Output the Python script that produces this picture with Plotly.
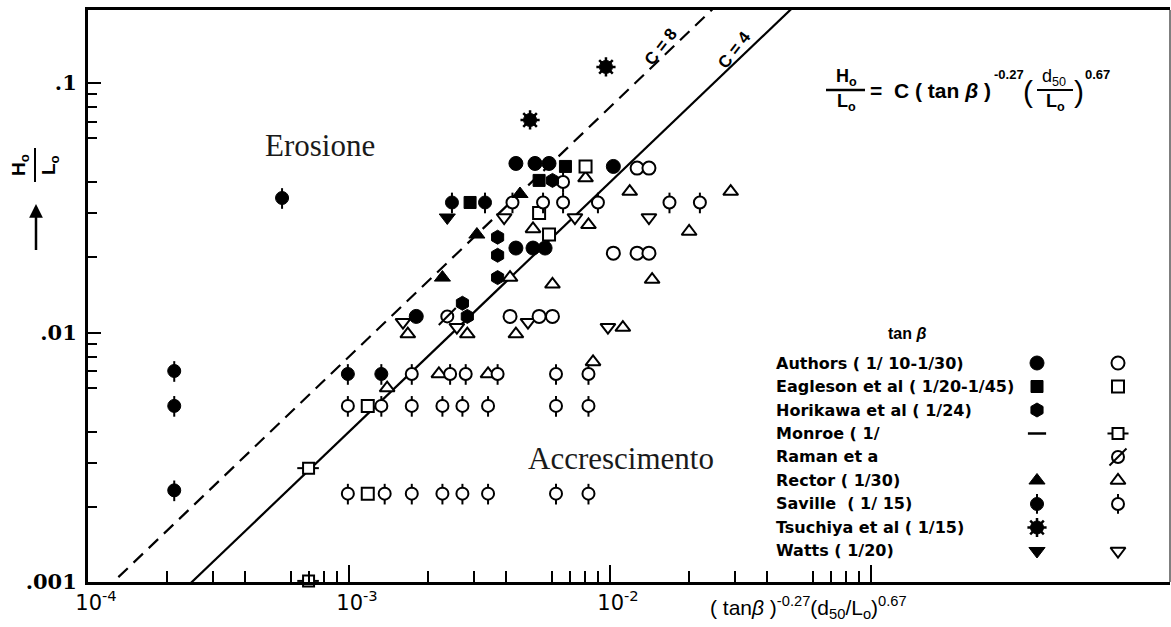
import plotly.graph_objects as go

# ---------------- data (x = (tanB)^-0.27 (d50/Lo)^0.67 , y = Ho/Lo) ----------------
# Authors (1/10-1/30)
authors_fill_x = [4.36e-3, 5.16e-3, 5.84e-3, 1.03e-2, 4.36e-3, 5.07e-3, 5.64e-3, 1.81e-3]
authors_fill_y = [0.0476, 0.0476, 0.0476, 0.0463, 0.0218, 0.0218, 0.0218, 0.0116]
authors_open_x = [1.27e-2, 1.41e-2, 1.03e-2, 1.27e-2, 1.41e-2, 4.14e-3, 5.35e-3, 6.02e-3]
authors_open_y = [0.0456, 0.0456, 0.0208, 0.0208, 0.0208, 0.0116, 0.0116, 0.0116]

# Eagleson et al (1/20-1/45)
eagleson_fill_x = [6.75e-3, 2.91e-3, 5.35e-3]
eagleson_fill_y = [0.0463, 0.0332, 0.0407]
eagleson_open_x = [8.06e-3, 5.35e-3, 5.84e-3, 1.18e-3, 1.18e-3]
eagleson_open_y = [0.0463, 0.0301, 0.0247, 0.00508, 0.00226]

# Horikawa et al (1/24)
horikawa_fill_x = [6.02e-3, 3.71e-3, 3.71e-3, 3.71e-3, 2.72e-3, 2.84e-3]
horikawa_fill_y = [0.0407, 0.0241, 0.0204, 0.0166, 0.0131, 0.0116]

# Monroe
monroe_open_x = [7.0e-4, 7.0e-4]
monroe_open_y = [0.00286, 0.00101]

# Raman et al
raman_open_x = [2.38e-3]
raman_open_y = [0.0116]

# Rector (1/30)
rector_fill_x = [4.52e-3, 3.09e-3, 2.28e-3]
rector_fill_y = [0.0359, 0.0247, 0.0166]
rector_open_x = [8.06e-3, 1.19e-2, 2.90e-2, 8.27e-3, 5.07e-3, 2.01e-2, 4.14e-3, 6.02e-3,
                 1.45e-2, 1.68e-3, 2.84e-3, 4.36e-3, 1.12e-2, 1.40e-3, 2.21e-3, 3.41e-3, 8.61e-3]
rector_open_y = [0.0416, 0.0367, 0.0367, 0.0270, 0.0260, 0.0254, 0.0166, 0.0156,
                 0.0163, 0.00986, 0.00986, 0.00986, 0.01047, 0.00599, 0.00682, 0.00682, 0.00762]

# Saville (1/15)
saville_fill_x = [5.54e-4, 2.14e-4, 2.14e-4, 2.14e-4, 9.9e-4, 1.33e-3, 2.48e-3, 3.32e-3]
saville_fill_y = [0.0346, 0.00701, 0.00508, 0.00233, 0.00682, 0.00682, 0.0332, 0.0332]
saville_open_x = [6.61e-3, 4.23e-3, 5.54e-3, 6.61e-3, 8.99e-3, 1.69e-2, 2.21e-2,
                  1.74e-3, 2.44e-3, 2.80e-3, 3.71e-3, 6.21e-3, 8.27e-3,
                  9.9e-4, 1.33e-3, 1.74e-3, 2.28e-3, 2.72e-3, 3.41e-3, 6.21e-3, 8.27e-3,
                  9.9e-4, 1.37e-3, 1.74e-3, 2.28e-3, 2.72e-3, 3.41e-3, 6.21e-3, 8.27e-3]
saville_open_y = [0.0401, 0.0332, 0.0332, 0.0332, 0.0332, 0.0332, 0.0332,
                  0.00682, 0.00682, 0.00682, 0.00682, 0.00682, 0.00682,
                  0.00508, 0.00508, 0.00508, 0.00508, 0.00508, 0.00508, 0.00508, 0.00508,
                  0.00226, 0.00226, 0.00226, 0.00226, 0.00226, 0.00226, 0.00226, 0.00226]

# Tsuchiya et al (1/15)
tsuchiya_fill_x = [9.65e-3, 4.94e-3]
tsuchiya_fill_y = [0.116, 0.0711]

# Watts (1/20)
watts_fill_x = [2.38e-3]
watts_fill_y = [0.0289]
watts_open_x = [3.93e-3, 7.34e-3, 1.41e-2, 1.61e-3, 2.59e-3, 4.85e-3, 9.82e-3]
watts_open_y = [0.0289, 0.0289, 0.0289, 0.0110, 0.0105, 0.0110, 0.0105]

# Boundary lines Ho/Lo = C * x
line_x = [1e-4, 1e-1]
c_levels = [8, 4]
c_dash = ["13px,8px", "solid"]

# Legend rows
legend_labels = ["Authors ( 1/ 10-1/30)", "Eagleson et al ( 1/20-1/45)", "Horikawa et al ( 1/24)",
                 "Monroe ( 1/", "Raman et a", "Rector ( 1/30)", "Saville  ( 1/ 15)",
                 "Tsuchiya et al ( 1/15)", "Watts ( 1/20)"]
legend_fill = ["authors_fill", "eagleson_fill", "horikawa_fill", "monroe_fill", None,
               "rector_fill", "saville_fill", "tsuchiya_fill", "watts_fill"]
legend_open = ["authors_open", "eagleson_open", None, "monroe_open", "raman_open",
               "rector_open", "saville_open", None, "watts_open"]

# Axis ticks
x_decades = [1e-4, 1e-3, 1e-2, 1e-1]
x_decade_text = ["10<sup>-4</sup>", "10<sup>-3</sup>", "10<sup>-2</sup>", " "]
y_decades = [1e-3, 1e-2, 1e-1]
y_decade_text = [".001", ".01", ".1"]
x_fives = [5e-4, 5e-3, 5e-2]
y_fives = [5e-3, 5e-2]
minor_digits = [2, 3, 4, 6, 7, 8, 9]
x_minor = [d * 10.0 ** e for e in (-4, -3, -2) for d in minor_digits]
y_minor = [d * 10.0 ** e for e in (-3, -2) for d in minor_digits]

# ---------------- marker styles ----------------
STYLES = {
    "authors_fill": [dict(symbol="circle", size=14, kind="fill")],
    "authors_open": [dict(symbol="circle", size=13, kind="open")],
    "eagleson_fill": [dict(symbol="square", size=12, kind="fill")],
    "eagleson_open": [dict(symbol="square", size=12, kind="open")],
    "horikawa_fill": [dict(symbol="hexagon", size=14, kind="fill")],
    "monroe_fill": [dict(symbol="line-ew-open", size=13, kind="stroke", lw=2.5)],
    "monroe_open": [dict(symbol="square", size=11, kind="open", err="x")],
    "raman_open": [dict(symbol="circle", size=12, kind="open"),
                   dict(symbol="line-ne-open", size=17, kind="stroke", lw=2)],
    "rector_fill": [dict(symbol="triangle-up", size=14, kind="fill")],
    "rector_open": [dict(symbol="triangle-up", size=13, kind="open")],
    "saville_fill": [dict(symbol="circle", size=13, kind="fill", err="y")],
    "saville_open": [dict(symbol="circle", size=12, kind="open", err="y")],
    "tsuchiya_fill": [dict(symbol="asterisk-open", size=16, kind="stroke", lw=2.5),
                      dict(symbol="circle", size=13, kind="fill")],
    "watts_fill": [dict(symbol="triangle-down", size=14, kind="fill")],
    "watts_open": [dict(symbol="triangle-down", size=13, kind="open")],
}


def add_marks(fig, x, y, key, xa="x", ya="y", legend=False):
    for layer in STYLES[key]:
        kind = layer["kind"]
        if kind == "fill":
            marker = dict(symbol=layer["symbol"], size=layer["size"], color="black",
                          line=dict(color="black", width=1))
        elif kind == "open":
            marker = dict(symbol=layer["symbol"], size=layer["size"], color="white",
                          line=dict(color="black", width=2))
        else:
            marker = dict(symbol=layer["symbol"], size=layer["size"], color="black",
                          line=dict(color="black", width=layer["lw"]))
        tr = dict(x=x, y=y, mode="markers", marker=marker, xaxis=xa, yaxis=ya,
                  showlegend=False, hoverinfo="skip", cliponaxis=False)
        err = layer.get("err")
        if err:
            if legend:
                eb = dict(type="constant", value=0.42 if err == "y" else 0.13,
                          width=0, thickness=2, color="black")
            else:
                eb = dict(type="percent", value=9.5, width=0, thickness=2, color="black")
            tr["error_y" if err == "y" else "error_x"] = eb
        fig.add_trace(go.Scatter(**tr))


# ---------------- figure geometry helpers (pixel -> paper) ----------------
W, H = 1171, 627
ML, MR, MT, MB = 88, 1, 10, 45
PW, PH = W - ML - MR, H - MT - MB
X_RANGE = [-4, -4 + PW / 261.0]
Y_RANGE = [-3, -3 + PH / 249.5]


def PX(px):
    return (px - ML) / PW


def PY(py):
    return (H - MB - py) / PH


fig = go.Figure()

# boundary lines
for c, dash in zip(c_levels, c_dash):
    fig.add_trace(go.Scatter(x=line_x, y=[c * v for v in line_x], mode="lines",
                             line=dict(color="black", width=2.2, dash=dash),
                             showlegend=False, hoverinfo="skip"))

# data series
add_marks(fig, rector_open_x, rector_open_y, "rector_open")
add_marks(fig, watts_open_x, watts_open_y, "watts_open")
add_marks(fig, authors_open_x, authors_open_y, "authors_open")
add_marks(fig, eagleson_open_x, eagleson_open_y, "eagleson_open")
add_marks(fig, monroe_open_x, monroe_open_y, "monroe_open")
add_marks(fig, raman_open_x, raman_open_y, "raman_open")
add_marks(fig, saville_open_x, saville_open_y, "saville_open")
add_marks(fig, authors_fill_x, authors_fill_y, "authors_fill")
add_marks(fig, eagleson_fill_x, eagleson_fill_y, "eagleson_fill")
add_marks(fig, horikawa_fill_x, horikawa_fill_y, "horikawa_fill")
add_marks(fig, rector_fill_x, rector_fill_y, "rector_fill")
add_marks(fig, saville_fill_x, saville_fill_y, "saville_fill")
add_marks(fig, tsuchiya_fill_x, tsuchiya_fill_y, "tsuchiya_fill")
add_marks(fig, watts_fill_x, watts_fill_y, "watts_fill")

# legend keys: column 0 = filled, column 1 = open, one row per source
for i, (kf, ko) in enumerate(zip(legend_fill, legend_open)):
    if kf:
        add_marks(fig, [0], [i], kf, xa="x2", ya="y2", legend=True)
    if ko:
        add_marks(fig, [1], [i], ko, xa="x2", ya="y2", legend=True)

SANS = "Liberation Sans"
SERIF = "Liberation Serif"
annotations = []


def text(px, py, s, size, family=SANS, weight="bold", angle=0, xanchor="center", color="black"):
    annotations.append(dict(x=PX(px), y=PY(py), xref="paper", yref="paper", text=s,
                            showarrow=False, textangle=angle, xanchor=xanchor, yanchor="middle",
                            font=dict(family=family, size=size, color=color, weight=weight)))


# region labels
text(320, 145, "Erosione", 31, family=SERIF, weight="normal", color="#1a1a1a")
text(621, 458, "Accrescimento", 31, family=SERIF, weight="normal", color="#1a1a1a")

# line labels
text(660, 47, "C = 8", 17, angle=-52)
text(735, 50, "C = 4", 17, angle=-52)

# formula
text(846, 78, "H<sub>o</sub>", 18)
text(846, 102, "L<sub>o</sub>", 18)
text(876, 90, "=", 21)
text(942, 91, "C ( tan <i>β</i> )", 21)
text(1009, 74, "-0.27", 13)
text(1028, 92, "(", 30, weight="normal")
text(1054, 78, "d<sub>50</sub>", 18, weight="normal")
text(1055, 102, "L<sub>o</sub>", 18)
text(1079, 92, ")", 30, weight="normal")
text(1097, 74, "0.67", 13)

# axis titles
text(20, 165, "H<sub>o</sub>", 19, angle=-90)
text(50, 165, "L<sub>o</sub>", 19, angle=-90)
text(808, 607, "( tan<i>β</i> )<sup>-0.27</sup>(d<sub>50</sub>/L<sub>o</sub>)<sup>0.67</sup>", 21,
     weight="normal")

# arrow next to the y title
annotations.append(dict(x=PX(36), y=PY(204), xref="paper", yref="paper", ax=0, ay=56,
                        axref="pixel", ayref="pixel", text=" ", showarrow=True,
                        arrowhead=2, arrowsize=1.1, arrowwidth=2.5, arrowcolor="black"))

# legend header and labels
text(907, 333, "tan <i>β</i>", 16)
for i, lab in enumerate(legend_labels):
    annotations.append(dict(x=PX(774), y=i, xref="paper", yref="y2", text=lab, showarrow=False,
                            xanchor="left", yanchor="middle",
                            font=dict(family="DejaVu Sans", size=16, color="black",
                                      weight="bold")))

shapes = [
    # fraction bars
    dict(type="line", xref="paper", yref="paper", x0=PX(826), x1=PX(865), y0=PY(90), y1=PY(90),
         line=dict(color="black", width=2.5)),
    dict(type="line", xref="paper", yref="paper", x0=PX(1037), x1=PX(1073), y0=PY(90), y1=PY(90),
         line=dict(color="black", width=2)),
    dict(type="line", xref="paper", yref="paper", x0=PX(35), x1=PX(35), y0=PY(148), y1=PY(182),
         line=dict(color="black", width=2)),
    # right frame edge
    dict(type="line", xref="paper", yref="paper", x0=1, x1=1, y0=0, y1=1,
         line=dict(color="#555555", width=1.5)),
]

fig.update_layout(
    width=W, height=H,
    margin=dict(l=ML, r=MR, t=MT, b=MB),
    paper_bgcolor="white", plot_bgcolor="white",
    showlegend=False,
    annotations=annotations,
    shapes=shapes,
    xaxis=dict(type="log", range=X_RANGE, showgrid=False, zeroline=False,
               showline=True, linecolor="black", linewidth=3, mirror=True,
               ticks="inside", ticklen=17, tickwidth=2, tickcolor="black",
               tickvals=x_decades, ticktext=x_decade_text, ticklabelshift=8,
               tickfont=dict(family="DejaVu Sans", size=21, color="black"),
               minor=dict(ticks="inside", ticklen=11, tickwidth=1.8, tickcolor="black",
                          tickvals=x_minor, showgrid=False)),
    yaxis=dict(type="log", range=Y_RANGE, showgrid=False, zeroline=False,
               showline=True, linecolor="black", linewidth=3, mirror=False,
               ticks="inside", ticklen=13, tickwidth=2, tickcolor="black",
               tickvals=y_decades, ticktext=y_decade_text, ticklabelstandoff=4,
               tickfont=dict(family="DejaVu Serif", size=21, color="black", weight="bold"),
               minor=dict(ticks="inside", ticklen=9, tickwidth=1.8, tickcolor="black",
                          tickvals=y_minor, showgrid=False)),
    # overlay axes carrying only the longer half-decade ticks
    xaxis3=dict(type="log", range=X_RANGE, overlaying="x", anchor="y", side="bottom",
                showgrid=False, zeroline=False, showline=False, showticklabels=False,
                ticks="inside", ticklen=15, tickwidth=2, tickcolor="black", tickvals=x_fives),
    yaxis3=dict(type="log", range=Y_RANGE, overlaying="y", anchor="x", side="left",
                showgrid=False, zeroline=False, showline=False, showticklabels=False,
                ticks="inside", ticklen=14, tickwidth=2, tickcolor="black", tickvals=y_fives),
    xaxis2=dict(domain=[PX(1017), PX(1138)], range=[-0.247, 1.247], visible=False,
                anchor="y2", fixedrange=True),
    yaxis2=dict(domain=[PY(565), PY(350)], range=[8.596, -0.553], visible=False,
                anchor="x2", fixedrange=True),
)

fig.write_html("out.html")
